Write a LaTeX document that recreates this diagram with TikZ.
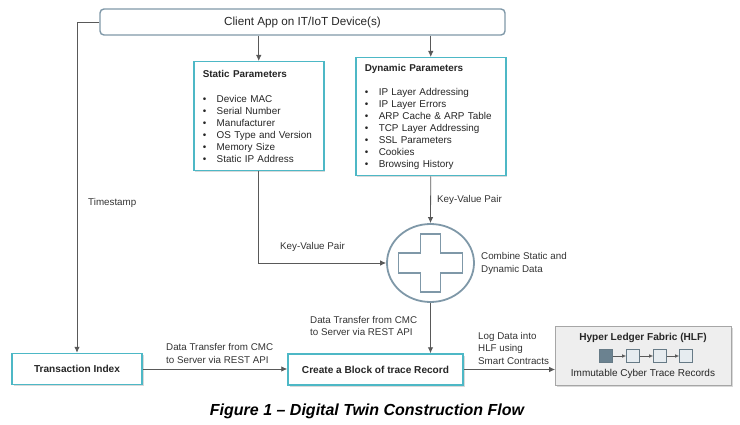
\documentclass[tikz,border=0pt]{standalone}
\usepackage{fontspec}
\setmainfont{Liberation Sans}
\usetikzlibrary{positioning,shapes.geometric,shadows,arrows.meta}

\definecolor{boxcyan}{HTML}{4DB8C6}
\definecolor{slate}{HTML}{7F98A8}
\definecolor{linegray}{HTML}{595959}
\definecolor{hlffill}{HTML}{EEEEEE}
\definecolor{hlfedge}{HTML}{A6A6A6}
\definecolor{blockdark}{HTML}{6B8290}
\definecolor{blocklight}{HTML}{E6ECF0}

\tikzset{
  pbox/.style={draw=boxcyan, line width=1.5pt, fill=white,
    drop shadow={opacity=0.3, shadow xshift=1.5pt, shadow yshift=-1.5pt}},
  flow/.style={draw=linegray, line width=0.8pt, -{Latex[length=6pt,width=5.5pt]}},
  lbl/.style={font=\fontsize{9.8}{12.5}\selectfont, text=black!80, inner sep=0pt, align=left},
  listtext/.style={font=\fontsize{9.9}{12}\selectfont, text=black!85, align=left},
  boldtext/.style={font=\fontsize{10.1}{12}\selectfont\bfseries, text=black!85},
  chain/.style={draw=slate!80!black, line width=0.6pt, minimum size=13pt, inner sep=0pt},
}
\newcommand{\itm}[1]{\makebox[14pt][l]{\textbullet}#1}

\begin{document}
\begin{tikzpicture}[x=1pt,y=-1pt]
    \useasboundingbox (0,0) rectangle (740,425);

    % Client app
    \node[draw=slate, line width=1.4pt, rounded corners=4pt, minimum width=405pt,
      minimum height=26pt, font=\fontsize{11.7}{13}\selectfont, text=black!85]
      (client) at (302.5,22) {Client App on IT/IoT Device(s)};

    % Static parameters
    \node[pbox, listtext, anchor=north west, text width=112pt, inner xsep=9pt,
      minimum height=109pt] (static) at (193,61)
      {\textbf{Static Parameters}\\[13pt]
       \itm{Device MAC}\\ \itm{Serial Number}\\ \itm{Manufacturer}\\
       \itm{OS Type and Version}\\ \itm{Memory Size}\\ \itm{Static IP Address}};

    % Dynamic parameters
    \node[pbox, listtext, anchor=north west, text width=132pt, inner xsep=9pt,
      minimum height=118pt] (dynamic) at (355,57)
      {\textbf{Dynamic Parameters}\\[12pt]
       \itm{IP Layer Addressing}\\ \itm{IP Layer Errors}\\ \itm{ARP Cache \& ARP Table}\\
       \itm{TCP Layer Addressing}\\ \itm{SSL Parameters}\\ \itm{Cookies}\\
       \itm{Browsing History}};

    % Combine
    \node[draw=slate, line width=1.8pt, ellipse, minimum width=87pt, minimum height=78pt,
      inner sep=0pt] (comb) at (430.5,263) {};
    \begin{scope}[shift={(comb.center)}]
      \draw[slate, line width=1.6pt] (-10,-29) -- (10,-29) -- (10,-10) -- (32,-10) -- (32,10)
        -- (10,10) -- (10,29) -- (-10,29) -- (-10,10) -- (-32,10) -- (-32,-10) -- (-10,-10) -- cycle;
    \end{scope}
    \node[lbl, anchor=west] (combtxt) at (481,263.5) {Combine Static and\\Dynamic Data};

    % Transaction index and block
    \node[pbox, boldtext, minimum width=130pt, minimum height=31pt] (txn) at (77,369) {Transaction Index};
    \node[pbox, boldtext, minimum width=175pt, minimum height=31pt] (block) at (375.5,369.5)
      {Create a Block of trace Record};

    % Hyper Ledger Fabric
    \node[draw=hlfedge, fill=hlffill, line width=0.8pt, minimum width=176pt, minimum height=59pt,
      drop shadow={opacity=0.3, shadow xshift=1.5pt, shadow yshift=-1.5pt}]
      (hlf) at (643.5,355.5) {};
    \node[boldtext] (hlftitle) at (643,337.5) {Hyper Ledger Fabric (HLF)};
    \node[chain, fill=blockdark] (b1) at (606,356) {};
    \node[chain, fill=blocklight] (b2) at (633,356) {};
    \node[chain, fill=blocklight] (b3) at (660,356) {};
    \node[chain, fill=blocklight] (b4) at (686,356) {};
    \foreach \a/\b in {b1/b2,b2/b3,b3/b4}
      \draw[linegray, line width=0.7pt, -{Latex[length=4pt,width=3.5pt]}] (\a) -- (\b);
    \node[font=\fontsize{10}{12}\selectfont, text=black!85] (hlfsub) at (643,374)
      {Immutable Cyber Trace Records};

    % Connectors
    \coordinate (tscorner) at (77,22);
    \draw[flow] (client.west) -- (tscorner) -- (txn.north);
    \node[lbl, anchor=west] (tslbl) at (88,203) {Timestamp};

    \draw[flow] (client.south -| static.north) -- (static.north);
    \draw[flow] (client.south -| dynamic.north) -- (dynamic.north);

    \coordinate (kvcorner) at (static.south |- comb.west);
    \draw[flow] (static.south) -- (kvcorner) -- (comb.west);
    \node[lbl, anchor=west] (kv1) at (280,247) {Key-Value Pair};

    \draw[flow] (dynamic.south) -- (comb.north);
    \node[lbl, anchor=west] (kv2) at (437,200) {Key-Value Pair};

    \draw[flow] (comb.south) -- (comb.south |- block.north);
    \node[lbl, anchor=west] (dt2) at (310,326) {Data Transfer from CMC\\to Server via REST API};

    \draw[flow] (txn.east) -- (txn.east -| block.west);
    \node[lbl, anchor=west] (dt1) at (166,353.5) {Data Transfer from CMC\\to Server via REST API};

    \draw[flow] (block.east) -- (block.east -| hlf.west);
    \node[lbl, anchor=west] (logtxt) at (478,348) {Log Data into\\HLF using\\Smart Contracts};

    % Caption
    \node[font=\fontsize{16}{18}\selectfont\bfseries\itshape] (caption) at (367,411)
      {Figure 1 -- Digital Twin Construction Flow};
\end{tikzpicture}
\end{document}
